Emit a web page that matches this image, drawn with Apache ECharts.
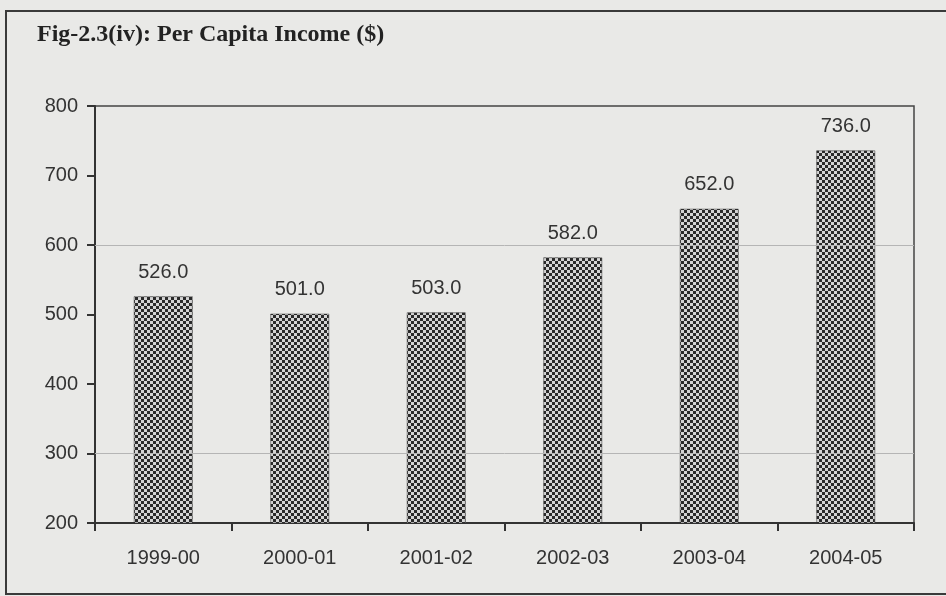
<!DOCTYPE html>
<html>
<head>
<meta charset="utf-8">
<script src="https://cdn.jsdelivr.net/npm/echarts@6/dist/echarts.min.js"></script>
<style>
  html, body { margin: 0; padding: 0; background: #e9e9e7; }
  #frame { position: absolute; left: 5px; top: 10px; width: 960px; height: 585px;
           border: 2px solid #3a3a3a; box-sizing: border-box; }
  #chart { position: absolute; left: 0; top: 0; width: 946px; height: 596px; }
</style>
</head>
<body>
<div id="frame"></div>
<div id="chart"></div>
<script>
const categories = ['1999-00', '2000-01', '2001-02', '2002-03', '2003-04', '2004-05'];
const perCapitaIncome = [526.0, 501.0, 503.0, 582.0, 652.0, 736.0];
const yTicks = { min: 200, max: 800, interval: 100 };
const gridValues = [300, 600];

function makePattern() {
  const c = document.createElement('canvas');
  c.width = 6; c.height = 6;
  const g = c.getContext('2d');
  g.fillStyle = '#d4d4d4';
  g.fillRect(0, 0, 6, 6);
  g.fillStyle = '#2a2a2a';
  g.fillRect(0, 0, 3, 3);
  g.fillRect(3, 3, 3, 3);
  return c;
}

const chart = echarts.init(document.getElementById('chart'), null, { renderer: 'canvas' });
chart.setOption({
  backgroundColor: 'transparent',
  animation: false,
  title: {
    text: 'Fig-2.3(iv): Per Capita Income ($)',
    left: 32, top: 18,
    textStyle: { fontFamily: 'Liberation Serif', fontWeight: 'bold', fontSize: 24, color: '#222' }
  },
  grid: {
    left: 95, right: 32, top: 106, bottom: 73,
    show: true, borderColor: '#444', borderWidth: 1.5, backgroundColor: 'transparent'
  },
  xAxis: {
    type: 'category',
    data: categories,
    axisLine: { lineStyle: { color: '#333', width: 2 } },
    axisTick: { show: true, length: 8, lineStyle: { color: '#333', width: 2 } },
    axisLabel: { margin: 25, fontFamily: 'Liberation Sans', fontSize: 20, color: '#333' }
  },
  yAxis: {
    type: 'value',
    min: yTicks.min, max: yTicks.max, interval: yTicks.interval,
    axisLine: { show: true, lineStyle: { color: '#333', width: 2 } },
    axisTick: { show: true, length: 8, lineStyle: { color: '#333', width: 2 } },
    splitLine: { show: false },
    axisLabel: { margin: 17, fontFamily: 'Liberation Sans', fontSize: 20, color: '#333' }
  },
  series: [{
    type: 'bar',
    data: perCapitaIncome,
    barWidth: '43%',
    itemStyle: { color: { image: makePattern(), repeat: 'repeat' }, borderColor: '#333', borderWidth: 0.5 },
    label: {
      show: true, position: 'top', distance: 14,
      formatter: p => p.value.toFixed(1),
      fontFamily: 'Liberation Sans', fontSize: 20, color: '#333'
    },
    markLine: {
      silent: true, symbol: 'none', label: { show: false },
      lineStyle: { color: '#b5b5b5', width: 1, type: 'solid' },
      data: gridValues.map(v => ({ yAxis: v }))
    },
    z: 3
  }]
});
</script>
</body>
</html>
